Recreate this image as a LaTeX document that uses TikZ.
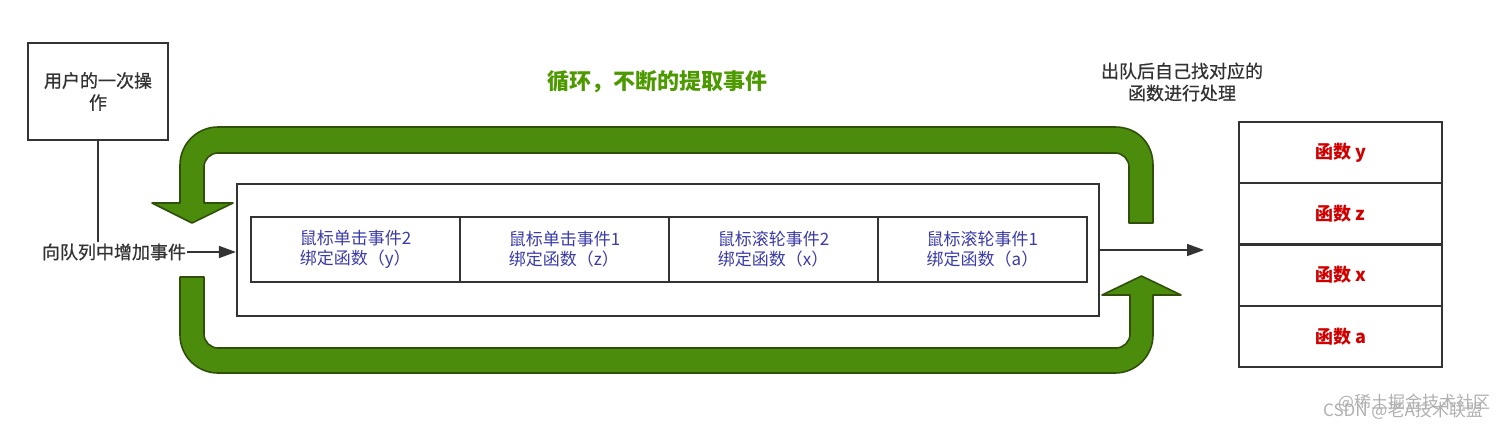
\documentclass[tikz,border=0pt]{standalone}
\usepackage{fontspec}
\setmainfont{Noto Sans CJK SC}
\usetikzlibrary{arrows.meta}
\definecolor{dk}{HTML}{333333}
\definecolor{evblue}{HTML}{3B3BA8}
\definecolor{fnred}{HTML}{D00000}
\definecolor{titlegreen}{HTML}{4D9900}
\definecolor{loopgreen}{HTML}{4C8C0C}
\definecolor{loopdark}{HTML}{2F4F0A}
\definecolor{wm}{HTML}{B0B0B0}
\tikzset{
  box/.style={draw=dk, line width=2.2pt, fill=white, inner sep=0pt},
  cell/.style={box, minimum width=209pt, minimum height=65pt, text=evblue, align=left, font=\fontsize{17}{20}\selectfont},
  fn/.style={box, minimum width=203pt, minimum height=61.25pt, text=fnred, font=\bfseries\fontsize{18}{22}\selectfont},
  darktext/.style={text=dk, align=center, font=\fontsize{18}{22}\selectfont\addfontfeature{FakeBold=0.8}, inner sep=1pt},
  flow/.style={draw=dk, line width=1.6pt},
  tip/.style={-{Triangle[length=17pt,width=12pt]}},
  loop/.style={fill=loopgreen, draw=loopdark, line width=1.6pt, line join=round},
  wmark/.style={text=wm, font=\fontsize{17}{20}\selectfont, inner sep=0pt}
}
\begin{document}
\begin{tikzpicture}[x=1pt,y=-1pt]
\useasboundingbox (0,0) rectangle (1512,428);
\fill[white] (0,0) rectangle (1512,428);

% green loop arrows (outer radius 38, inner radius 14)
\path[loop] (1153,223) -- (1153,165) .. controls (1153,144) and (1138,127) .. (1115,127)
  -- (218,127) .. controls (197,127) and (180,144) .. (180,165) -- (180,203) -- (152,203)
  -- (192,223) -- (233,203) -- (204,203) -- (204,167)
  .. controls (204,159.3) and (210.3,153) .. (218,153) -- (1115,153)
  .. controls (1122.7,153) and (1129,159.3) .. (1129,167) -- (1129,223) -- cycle;
\path[loop] (180,277) -- (180,335) .. controls (180,356) and (197,373) .. (218,373)
  -- (1115,373) .. controls (1136,373) and (1153,356) .. (1153,335) -- (1153,295)
  -- (1181,295) -- (1141.5,276) -- (1102,295) -- (1130,295) -- (1130,334)
  .. controls (1130,341.7) and (1123.7,348) .. (1116,348) -- (218,348)
  .. controls (210.3,348) and (204,341.7) .. (204,334) -- (204,277) -- cycle;

% title and labels
\node[text=titlegreen, font=\bfseries\fontsize{22}{26}\selectfont] (title) at (657,82) {循环，不断的提取事件};
\node[darktext] (out) at (1182,82) {出队后自己找对应的\\函数进行处理};

% user box
\node[box, minimum width=140pt, minimum height=97pt, darktext] (u) at (98,91.5) {用户的一次操\\作};
\node[darktext] (add) at (114,252) {向队列中增加事件};

% queue
\node[box, minimum width=862pt, minimum height=132pt] (q) at (668,250) {};
\node[cell] (c1) at (355.5,249.5) {鼠标单击事件2\\绑定函数（y）};
\node[cell] (c2) at (564.5,249.5) {鼠标单击事件1\\绑定函数（z）};
\node[cell] (c3) at (773.5,249.5) {鼠标滚轮事件2\\绑定函数（x）};
\node[cell] (c4) at (982.5,249.5) {鼠标滚轮事件1\\绑定函数（a）};

% function stack
\node[fn] (fy) at (1340.5,152.6) {函数 y};
\node[fn] (fz) at (1340.5,213.9) {函数 z};
\node[fn] (fx) at (1340.5,275.1) {函数 x};
\node[fn] (fa) at (1340.5,336.4) {函数 a};

% connectors
\coordinate (exit) at (1204,250);
\draw[flow] (u.south) -- (u.south |- add.north);
\draw[flow, tip] (add.east) -- (add.east -| q.west);
\draw[flow, tip] (q.east) -- (exit);

% watermark (two overlapping marks, as in the reference)
\node[wmark] (wm1) at (1414,403) {@稀土掘金技术社区};
\node[wmark] (wm2) at (1403,411) {CSDN @老A技术联盟};
\end{tikzpicture}
\end{document}
